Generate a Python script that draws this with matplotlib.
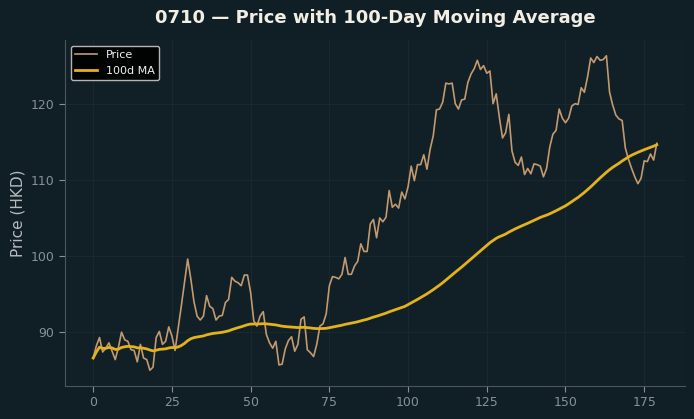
import matplotlib
matplotlib.use("Agg")
import matplotlib.pyplot as plt
import numpy as np
import pandas as pd

title = "0710 — Price with 100-Day Moving Average"
ylabel = "Price (HKD)"
ma_window = 100

price = [
    86.6, 88.2, 89.3, 87.4, 87.9, 88.6, 87.5, 86.4, 88.0, 90.0,
    89.0, 88.8, 87.7, 87.6, 86.1, 88.4, 86.6, 86.4, 85.0, 85.4,
    89.3, 90.1, 88.4, 88.8, 90.7, 89.5, 87.6, 90.5, 93.5, 96.5,
    99.6, 97.0, 94.0, 92.1, 91.6, 92.1, 94.8, 93.4, 93.1, 91.6,
    92.1, 92.2, 93.9, 94.3, 97.2, 96.7, 96.5, 96.1, 97.5, 97.5,
    95.2, 91.5, 90.8, 92.1, 92.7, 89.7, 88.6, 87.9, 88.8, 85.7,
    85.8, 87.8, 88.9, 89.4, 87.5, 88.4, 91.7, 92.0, 87.7, 87.3,
    86.8, 88.4, 90.8, 91.1, 92.4, 96.1, 97.3, 97.2, 97.0, 97.6,
    99.8, 97.6, 97.6, 98.7, 99.3, 101.6, 100.6, 100.6, 104.2, 104.8,
    102.4, 105.0, 104.5, 105.1, 108.6, 106.4, 106.8, 106.3, 108.4, 107.5,
    109.1, 111.8, 109.9, 112.0, 112.0, 113.3, 111.4, 114.0, 115.8, 119.2,
    119.3, 120.2, 122.7, 122.6, 122.7, 120.0, 119.3, 120.5, 120.6, 122.8,
    123.9, 124.6, 125.7, 124.5, 125.0, 124.0, 124.3, 120.0, 121.3, 118.2,
    115.5, 116.2, 118.6, 113.8, 112.3, 111.9, 113.0, 110.7, 111.5, 110.8,
    112.1, 112.0, 111.8, 110.4, 111.5, 114.3, 116.0, 116.5, 119.3, 118.1,
    117.5, 118.1, 119.7, 120.0, 119.9, 122.1, 121.5, 123.5, 126.0, 125.4,
    126.2, 125.7, 125.8, 126.3, 121.5, 119.8, 118.5, 118.0, 117.8, 114.2,
    112.7, 111.5, 110.4, 109.5, 110.2, 112.5, 112.4, 113.4, 112.6, 114.8,
]
days = np.arange(len(price))
ma = pd.Series(price).rolling(ma_window, min_periods=1).mean()

fig_bg = "#0f1f25"
ax_bg = "#111f27"

fig = plt.figure(figsize=(6.94, 4.19), dpi=100, facecolor=fig_bg)
ax = fig.add_axes([0.0937, 0.0788, 0.8933, 0.8257])
ax.set_facecolor(ax_bg)

ax.plot(days, price, color="#c39a6e", lw=1.2, label="Price")
ax.plot(days, ma, color="#e3b21c", lw=2.0, label="100d MA")

ax.set_xticks([0, 25, 50, 75, 100, 125, 150, 175])
ax.set_yticks([90, 100, 110, 120])
ax.grid(True, color="#172830", lw=0.8)
ax.set_axisbelow(True)

for s in ["top", "right"]:
    ax.spines[s].set_visible(False)
for s in ["left", "bottom"]:
    ax.spines[s].set_color("#4a565b")
ax.tick_params(colors="#85919a", labelsize=9, length=4)

ax.set_ylabel(ylabel, color="#b4bcc0", fontsize=11)
ax.set_title(title, color="#f2eee4", fontsize=13, fontweight="bold", pad=12)

leg = ax.legend(loc="upper left", fontsize=8, facecolor="#000000",
                edgecolor="#c8c8c8", framealpha=0.9)
for t in leg.get_texts():
    t.set_color("#f0f0f0")

fig.savefig("out.png", dpi=100, facecolor=fig_bg)
